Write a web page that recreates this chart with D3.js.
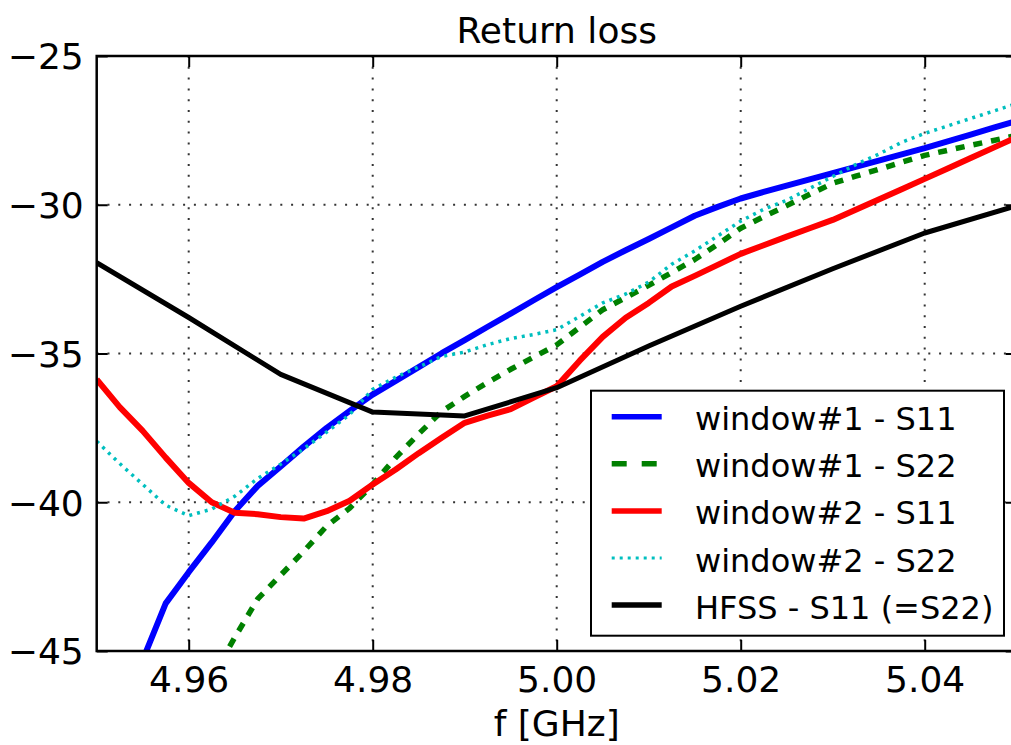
<!DOCTYPE html>
<html>
<head>
<meta charset="utf-8">
<script src="https://cdn.jsdelivr.net/npm/d3@7"></script>
<style>
  html, body { margin: 0; padding: 0; background: #fff; }
  svg { display: block; font-family: "DejaVu Sans", sans-serif; }
</style>
</head>
<body>
<svg id="chart" width="1011" height="745"></svg>
<script>
// ---------------- data ----------------
const chartTitle = "Return loss";
const xLabel = "f [GHz]";
const xTicks = [4.96, 4.98, 5.00, 5.02, 5.04];
const yTicks = [-45, -40, -35, -30, -25];

const freqs = [4.9500,4.9525,4.9550,4.9575,4.9600,4.9625,4.9650,4.9675,4.9700,4.9725,
               4.9750,4.9775,4.9800,4.9825,4.9850,4.9875,4.9900,4.9925,4.9950,4.9975,
               5.0000,5.0025,5.0050,5.0075,5.0100,5.0125,5.0150,5.0175,5.0200,5.0225,
               5.0250,5.0275,5.0300,5.0325,5.0350,5.0375,5.0400,5.0425,5.0450,5.0475,5.0500];

const w1S11 = [null,-47.2,-45.3,-43.4,-42.35,-41.35,-40.3,-39.45,-38.8,-38.13,
               -37.5,-36.93,-36.38,-35.92,-35.46,-34.99,-34.55,-34.1,-33.66,-33.21,
               -32.77,-32.35,-31.92,-31.53,-31.15,-30.76,-30.37,-30.07,-29.79,-29.57,
               -29.36,-29.15,-28.94,-28.73,-28.52,-28.31,-28.1,-27.87,-27.64,-27.41,-27.18];

const w1S22 = [null,null,null,null,null,-45.9,-44.55,-43.25,-42.45,-41.65,
               -40.8,-40.2,-39.4,-38.5,-37.7,-36.95,-36.44,-35.97,-35.53,-35.12,
               -34.71,-34.12,-33.53,-33.12,-32.71,-32.28,-31.84,-31.33,-30.79,-30.4,
               -30.03,-29.65,-29.28,-29.04,-28.81,-28.57,-28.34,-28.17,-28.0,-27.84,-27.67];

const w2S11 = [-35.87,-36.8,-37.6,-38.5,-39.35,-40.0,-40.35,-40.4,-40.5,-40.55,
               -40.3,-39.95,-39.4,-38.9,-38.35,-37.83,-37.33,-37.09,-36.87,-36.48,
               -36.1,-35.24,-34.44,-33.8,-33.3,-32.75,-32.39,-32.02,-31.65,-31.36,
               -31.07,-30.79,-30.51,-30.17,-29.82,-29.48,-29.13,-28.78,-28.43,-28.08,-27.73];

const w2S22 = [-37.95,-38.7,-39.4,-40.1,-40.45,-40.23,-39.8,-39.2,-38.72,-38.2,
               -37.64,-37.05,-36.2,-35.8,-35.45,-35.1,-34.95,-34.7,-34.5,-34.36,
               -34.2,-33.75,-33.3,-33.0,-32.6,-32.0,-31.55,-31.05,-30.55,-30.15,
               -29.85,-29.45,-29.05,-28.65,-28.3,-27.9,-27.6,-27.35,-27.1,-26.85,-26.6];

const hfssFreqs = [4.95,4.96,4.97,4.98,4.99,5.00,5.01,5.02,5.03,5.04,5.05];
const hfssS11   = [-31.95,-33.79,-35.70,-36.97,-37.10,-36.15,-34.75,-33.41,-32.15,-30.95,-30.03];

const seriesNames = ["window#1 - S11","window#1 - S22","window#2 - S11","window#2 - S22","HFSS - S11 (=S22)"];

// ---------------- styles ----------------
const styles = [
  {color:"#0000ff", width:6,   dash:null,   legendDash:null},
  {color:"#008000", width:5.5, dash:"9,9",  legendDash:"15,15"},
  {color:"#ff0000", width:6,   dash:null,   legendDash:null},
  {color:"#00bfbf", width:3.5, dash:"3,5",  legendDash:"3,5"},
  {color:"#000000", width:5,   dash:null,   legendDash:null}
];

// ---------------- layout ----------------
const svg = d3.select("#chart");
const L = 96.7, R = 1016.7, T = 56, B = 651;
const x = d3.scaleLinear().domain([4.95, 5.05]).range([L, R]);
const y = d3.scaleLinear().domain([-45, -25]).range([B, T]);
const FONT = 36;

svg.append("defs").append("clipPath").attr("id","clip")
  .append("rect").attr("x", L).attr("y", T).attr("width", R - L).attr("height", B - T);

// grid
const grid = svg.append("g").attr("stroke", "#333").attr("stroke-width", 2)
  .attr("stroke-dasharray", "2,8.8");
xTicks.forEach(t => grid.append("line")
  .attr("x1", x(t)).attr("x2", x(t)).attr("y1", T).attr("y2", B));
yTicks.filter(t => t > -45 && t < -25).forEach(t => grid.append("line")
  .attr("x1", L).attr("x2", R).attr("y1", y(t)).attr("y2", y(t)));

// series
const measured = [w1S11, w1S22, w2S11, w2S22];
const plot = svg.append("g").attr("clip-path", "url(#clip)");
const line = d3.line().defined(d => d[1] !== null)
  .x(d => x(d[0])).y(d => y(d[1]));

measured.forEach((vals, i) => {
  const pts = freqs.map((f, k) => [f, vals[k]]);
  const s = styles[i];
  plot.append("path").datum(pts)
    .attr("d", line)
    .attr("fill", "none")
    .attr("stroke", s.color)
    .attr("stroke-width", s.width)
    .attr("stroke-linejoin", "round")
    .attr("stroke-dasharray", s.dash);
});
{
  const pts = hfssFreqs.map((f, k) => [f, hfssS11[k]]);
  const s = styles[4];
  plot.append("path").datum(pts)
    .attr("d", line).attr("fill", "none")
    .attr("stroke", s.color).attr("stroke-width", s.width)
    .attr("stroke-linejoin", "round");
}

// axes
function styleAxis(g) {
  g.select(".domain").remove();
  g.selectAll(".tick line").attr("stroke", "#000").attr("stroke-width", 2);
  g.selectAll("text").attr("fill", "#000")
    .style("font-family", '"DejaVu Sans", sans-serif').style("font-size", FONT + "px");
}
const fmtX = d3.format(".2f");
const fmtY = d => (d < 0 ? "\u2212" : "") + Math.abs(d);

const gx = svg.append("g").attr("transform", `translate(0,${B})`)
  .call(d3.axisBottom(x).tickValues(xTicks).tickFormat(fmtX).tickSize(-11).tickPadding(0));
styleAxis(gx);
gx.selectAll("text").attr("y", 41).attr("dy", 0);

const gxt = svg.append("g").attr("transform", `translate(0,${T})`)
  .call(d3.axisTop(x).tickValues(xTicks).tickFormat("").tickSize(-11));
styleAxis(gxt);

const gy = svg.append("g").attr("transform", `translate(${L},0)`)
  .call(d3.axisLeft(y).tickValues(yTicks).tickFormat(fmtY).tickSize(-11).tickPadding(13));
styleAxis(gy);
gy.selectAll("text").attr("dy", "0.36em");

const gyr = svg.append("g").attr("transform", `translate(${R},0)`)
  .call(d3.axisRight(y).tickValues(yTicks).tickFormat("").tickSize(-11));
styleAxis(gyr);

// spines
svg.append("rect").attr("x", L).attr("y", T).attr("width", R - L).attr("height", B - T)
  .attr("fill", "none").attr("stroke", "#000").attr("stroke-width", 2.5);

// title & label
svg.append("text").attr("x", (L + R) / 2).attr("y", 42.7).attr("text-anchor", "middle")
  .style("font-size", FONT + "px").attr("fill", "#000").text(chartTitle);
svg.append("text").attr("x", (L + R) / 2).attr("y", 736).attr("text-anchor", "middle")
  .style("font-size", FONT + "px").attr("fill", "#000").text(xLabel);

// legend
const lg = svg.append("g");
lg.append("rect").attr("x", 591).attr("y", 390.7).attr("width", 413).attr("height", 245)
  .attr("fill", "#fff").attr("stroke", "#000").attr("stroke-width", 2);
seriesNames.forEach((name, i) => {
  const cy = 416.7 + i * 47.1;
  const s = styles[i];
  lg.append("line").attr("x1", 611.7).attr("x2", 661.7).attr("y1", cy).attr("y2", cy)
    .attr("stroke", s.color).attr("stroke-width", i === 3 ? 3 : 5.5)
    .attr("stroke-dasharray", s.legendDash);
  lg.append("text").attr("x", 695).attr("y", cy + 13.5)
    .style("font-size", "32px").attr("fill", "#000").text(name);
});
</script>
</body>
</html>
